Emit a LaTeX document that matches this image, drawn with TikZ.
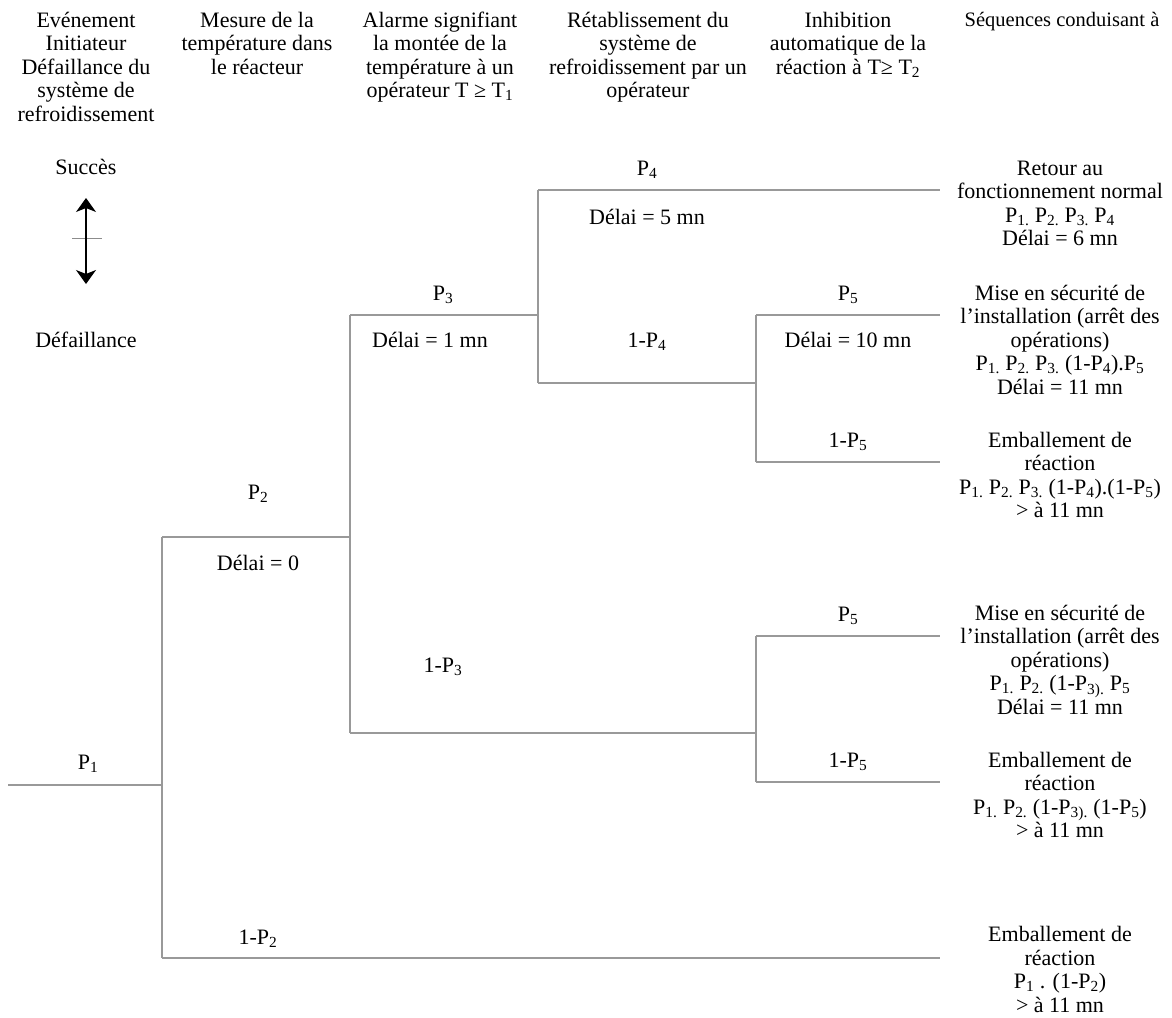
\documentclass[tikz,border=0pt]{standalone}
\usepackage{fontspec}
\setmainfont{Liberation Serif}
\usetikzlibrary{arrows.meta}
\newcommand{\sub}[1]{\textsubscript{#1}}
\begin{document}
\begin{tikzpicture}[x=1pt,y=-1pt,
  txt/.style={font=\fontsize{22}{23.5}\selectfont, align=center, inner sep=0pt, anchor=base},
  lbl/.style={font=\fontsize{22}{23.5}\selectfont, inner sep=0pt, anchor=base},
  br/.style={draw=black!40, line width=1.3pt}]
\useasboundingbox (0,0) rectangle (1172,1017);
% headers (anchor = baseline of the last line)
\node[txt] (h1) at (86,121) {Evénement\\Initiateur\\Défaillance du\\système de\\refroidissement};
\node[txt] (h2) at (257,74) {Mesure de la\\température dans\\le réacteur};
\node[txt] (h3) at (440,97.5) {Alarme signifiant\\la montée de la\\température à un\\opérateur T ≥ T\sub{1}};
\node[txt] (h4) at (648,97.5) {Rétablissement du\\système de\\refroidissement par un\\opérateur};
\node[txt] (h5) at (848,74) {Inhibition\\automatique de la\\réaction à T≥ T\sub{2}};
\node[txt,font=\fontsize{20.5}{23.5}\selectfont] (h6) at (1062,27) {Séquences conduisant à};
% legend
\node[lbl] (succ) at (86,174) {Succès};
\node[lbl] (def) at (86,347) {Défaillance};
\coordinate (la) at (86,198);
\coordinate (lb) at (86,284);
\coordinate (lt1) at (72,238);
\coordinate (lt2) at (102,238);
\draw[black!45, line width=1pt] (lt1) -- (lt2);
\draw[black, line width=1.2pt, {Stealth[width=20pt,length=14pt,inset=4pt]}-{Stealth[width=20pt,length=14pt,inset=4pt]}] (la) -- (lb);
% tree coordinates
\coordinate (s) at (8,785);
\coordinate (n1) at (162,785);
\coordinate (n1t) at (162,537);
\coordinate (n1b) at (162,958);
\coordinate (n2) at (350,537);
\coordinate (n2t) at (350,315);
\coordinate (n2b) at (350,733);
\coordinate (n3) at (538,315);
\coordinate (n3t) at (538,190);
\coordinate (n3b) at (538,383);
\coordinate (e1) at (940,190);
\coordinate (n4) at (756,383);
\coordinate (n4t) at (756,315);
\coordinate (n4b) at (756,462);
\coordinate (e2) at (940,315);
\coordinate (e3) at (940,462);
\coordinate (n5) at (756,733);
\coordinate (n5t) at (756,636);
\coordinate (n5b) at (756,782);
\coordinate (e4) at (940,636);
\coordinate (e5) at (940,782);
\coordinate (e6) at (940,958);
\draw[br] (s) -- (n1);
\draw[br] (n1t) -- (n1b);
\draw[br] (n1t) -- (n2);
\draw[br] (n2t) -- (n2b);
\draw[br] (n2t) -- (n3);
\draw[br] (n3t) -- (n3b);
\draw[br] (n3t) -- (e1);
\draw[br] (n3b) -- (n4);
\draw[br] (n4t) -- (n4b);
\draw[br] (n4t) -- (e2);
\draw[br] (n4b) -- (e3);
\draw[br] (n2b) -- (n5);
\draw[br] (n5t) -- (n5b);
\draw[br] (n5t) -- (e4);
\draw[br] (n5b) -- (e5);
\draw[br] (n1b) -- (e6);
% branch labels
\node[lbl] (p1) at (88,769) {P\sub{1}};
\node[lbl] (p2) at (258,499) {P\sub{2}};
\node[lbl] (d0) at (258,570) {Délai = 0};
\node[lbl] (p3) at (443,300) {P\sub{3}};
\node[lbl] (d1) at (430,347) {Délai = 1 mn};
\node[lbl] (np3) at (443,672) {1-P\sub{3}};
\node[lbl] (np2) at (258,944) {1-P\sub{2}};
\node[lbl] (p4) at (647,175) {P\sub{4}};
\node[lbl] (d5) at (647,224) {Délai = 5 mn};
\node[lbl] (np4) at (647,347) {1-P\sub{4}};
\node[lbl] (p5a) at (848,300) {P\sub{5}};
\node[lbl] (d10) at (848,347) {Délai = 10 mn};
\node[lbl] (np5a) at (848,447) {1-P\sub{5}};
\node[lbl] (p5b) at (848,621) {P\sub{5}};
\node[lbl] (np5b) at (848,767) {1-P\sub{5}};
% outcomes (anchor = baseline of the last line)
\node[txt] (o1) at (1060,245.5) {Retour au\\fonctionnement normal\\P\sub{1.} P\sub{2.} P\sub{3.} P\sub{4}\\Délai = 6 mn};
\node[txt] (o2) at (1060,394) {Mise en sécurité de\\l’installation (arrêt des\\opérations)\\P\sub{1.} P\sub{2.} P\sub{3.} (1-P\sub{4}).P\sub{5}\\Délai = 11 mn};
\node[txt] (o3) at (1060,517.5) {Emballement de\\réaction\\P\sub{1.} P\sub{2.} P\sub{3.} (1-P\sub{4}).(1-P\sub{5})\\> à 11 mn};
\node[txt] (o4) at (1060,714) {Mise en sécurité de\\l’installation (arrêt des\\opérations)\\P\sub{1.} P\sub{2.} (1-P\sub{3).} P\sub{5}\\Délai = 11 mn};
\node[txt] (o5) at (1060,837.5) {Emballement de\\réaction\\P\sub{1.} P\sub{2.} (1-P\sub{3).} (1-P\sub{5})\\> à 11 mn};
\node[txt] (o6) at (1060,1012) {Emballement de\\réaction\\P\sub{1} . (1-P\sub{2})\\> à 11 mn};
\end{tikzpicture}
\end{document}
